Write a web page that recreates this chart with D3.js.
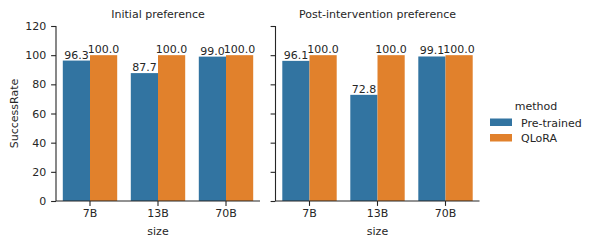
<!DOCTYPE html>
<html>
<head>
<meta charset="utf-8">
<script src="https://cdn.jsdelivr.net/npm/d3@7"></script>
<style>
  body { margin: 0; background: #fff; }
  text { font-family: "DejaVu Sans", sans-serif; fill: #262626; }
</style>
</head>
<body>
<div id="chart"></div>
<script>
const sizes = ["7B", "13B", "70B"];
const methods = ["Pre-trained", "QLoRA"];
const panelTitles = ["Initial preference", "Post-intervention preference"];
const initialPretrained = [96.3, 87.7, 99.0];
const initialQlora = [100.0, 100.0, 100.0];
const postPretrained = [96.1, 72.8, 99.1];
const postQlora = [100.0, 100.0, 100.0];
const yTicks = [0, 20, 40, 60, 80, 100, 120];
const colors = ["#3274a1", "#e1812c"];

const panels = [
  [initialPretrained, initialQlora],
  [postPretrained, postQlora]
];

const width = 592, height = 246;
const plotTop = 26, plotBottom = 201;
const panelX = [56, 275.5];
const panelW = 204;
const fs = "11px";
const ink = "#262626";

const svg = d3.select("#chart").append("svg")
  .attr("width", width).attr("height", height);

const y = d3.scaleLinear().domain([0, 120]).range([plotBottom, plotTop]);

panels.forEach((series, p) => {
  const g = svg.append("g").attr("transform", `translate(${panelX[p]},0)`);

  const x = d3.scaleBand().domain(sizes).range([0, panelW]).paddingInner(0.2).paddingOuter(0.1);
  const xInner = d3.scaleBand().domain(methods).range([0, x.bandwidth()]);

  const groups = g.selectAll(".grp")
    .data(sizes)
    .enter().append("g")
    .attr("transform", d => `translate(${x(d)},0)`);

  methods.forEach((m, mi) => {
    groups.append("rect")
      .attr("x", xInner(m))
      .attr("width", xInner.bandwidth())
      .attr("y", (d, i) => y(series[mi][i]))
      .attr("height", (d, i) => plotBottom - y(series[mi][i]))
      .attr("fill", colors[mi]);

    groups.append("text")
      .attr("x", xInner(m) + xInner.bandwidth() / 2)
      .attr("y", (d, i) => y(series[mi][i]) - 2)
      .attr("text-anchor", "middle")
      .attr("font-size", fs)
      .text((d, i) => series[mi][i].toFixed(1));
  });

  const yAxis = d3.axisLeft(y).tickValues(yTicks).tickSize(4.9).tickPadding(4.9);
  const ya = g.append("g").call(yAxis);
  ya.select(".domain").attr("d", `M0,${plotTop}V${plotBottom}`).attr("stroke", ink).attr("stroke-width", 1.1);
  ya.selectAll(".tick line").attr("stroke", ink).attr("stroke-width", 1.1);
  ya.selectAll(".tick text").attr("font-size", fs).attr("font-family", "DejaVu Sans").attr("fill", ink);
  if (p === 1) ya.selectAll(".tick text").remove();

  const xAxis = d3.axisBottom(x).tickSize(4.9).tickPadding(3.5);
  const xa = g.append("g").attr("transform", `translate(0,${plotBottom})`).call(xAxis);
  xa.select(".domain").attr("d", `M0,0H${panelW}`).attr("stroke", ink).attr("stroke-width", 1.1);
  xa.selectAll(".tick line").attr("stroke", ink).attr("stroke-width", 1.1);
  xa.selectAll(".tick text").attr("font-size", fs).attr("font-family", "DejaVu Sans").attr("fill", ink);

  g.append("text")
    .attr("x", panelW / 2).attr("y", 235)
    .attr("text-anchor", "middle").attr("font-size", fs)
    .text("size");

  g.append("text")
    .attr("x", panelW / 2).attr("y", 18)
    .attr("text-anchor", "middle").attr("font-size", fs)
    .text(panelTitles[p]);
});

svg.append("text")
  .attr("transform", `translate(18,${(plotTop + plotBottom) / 2}) rotate(-90)`)
  .attr("text-anchor", "middle").attr("font-size", fs)
  .text("SuccessRate");

// legend
const leg = svg.append("g").attr("transform", "translate(490,0)");
leg.append("text").attr("x", 46).attr("y", 110).attr("text-anchor", "middle")
  .attr("font-size", fs).text("method");
methods.forEach((m, i) => {
  leg.append("rect").attr("x", 0).attr("y", 118.5 + i * 15.5).attr("width", 22).attr("height", 7.5)
    .attr("fill", colors[i]);
  leg.append("text").attr("x", 31).attr("y", 126.5 + i * 15.5).attr("font-size", fs).text(m);
});
</script>
</body>
</html>
